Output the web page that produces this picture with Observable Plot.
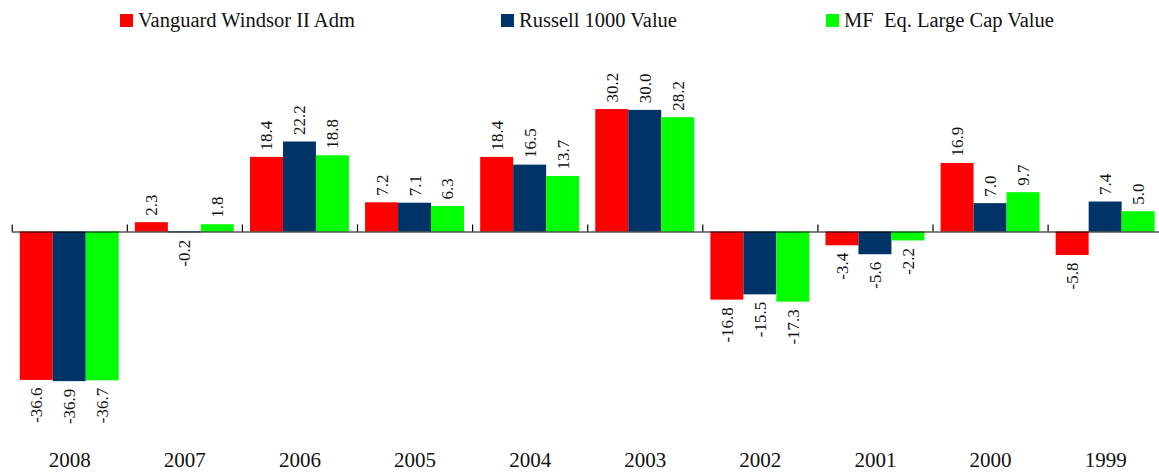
<!DOCTYPE html>
<html>
<head>
<meta charset="utf-8">
<script src="https://cdn.jsdelivr.net/npm/d3@7"></script>
<script src="https://cdn.jsdelivr.net/npm/@observablehq/plot@0.6"></script>
<style>
  html, body { margin: 0; padding: 0; background: #fff; }
  #wrap { width: 1159px; height: 474px; overflow: hidden; font-family: "Liberation Serif", "Times New Roman", serif; }
  #legend { position: relative; width: 1159px; height: 40px; }
  .sw { position: absolute; top: 14px; width: 13px; height: 13px; }
  .lt { position: absolute; top: 0; line-height: 40px; font-size: 20.5px; color: #111; white-space: pre; font-family: "Liberation Serif", "Times New Roman", serif; }
  svg { display: block; }
</style>
</head>
<body>
<div id="wrap">
  <div id="legend"></div>
  <div id="chart"></div>
</div>
<script>
const years = ["2008", "2007", "2006", "2005", "2004", "2003", "2002", "2001", "2000", "1999"];
const series = ["Vanguard Windsor II Adm", "Russell 1000 Value", "MF  Eq. Large Cap Value"];
const windsor = [-36.6, 2.3, 18.4, 7.2, 18.4, 30.2, -16.8, -3.4, 16.9, -5.8];
const russell = [-36.9, -0.2, 22.2, 7.1, 16.5, 30.0, -15.5, -5.6, 7.0, 7.4];
const mfValue = [-36.7, 1.8, 18.8, 6.3, 13.7, 28.2, -17.3, -2.2, 9.7, 5.0];
const colors = ["#ff0000", "#003366", "#00ff00"];

const values = [windsor, russell, mfValue];
const data = [];
years.forEach((yr, i) => series.forEach((s, j) => data.push({year: yr, series: s, value: values[j][i]})));

// legend
const legendPos = [[120, 138], [501, 519], [826, 844]];
const legend = document.getElementById("legend");
series.forEach((s, j) => {
  const sw = document.createElement("div");
  sw.className = "sw";
  sw.style.left = legendPos[j][0] + "px";
  sw.style.background = colors[j];
  legend.appendChild(sw);
  const t = document.createElement("div");
  t.className = "lt";
  t.style.left = legendPos[j][1] + "px";
  t.textContent = s;
  legend.appendChild(t);
});

const serif = "'Liberation Serif', 'Times New Roman', serif";
const fmt = d => d.value.toFixed(1);

// geometry of the in-group band scale (used to put the small ticks on group boundaries)
const fxRange = [11.7, 1162.7];
const facetW = (fxRange[1] - fxRange[0]) / years.length;
const padOuter = 0.245;
const step = facetW / (series.length + 2 * padOuter);
const edgeOffset = -(padOuter * step + step / 2);

const chart = Plot.plot({
  width: 1159,
  height: 434,
  marginLeft: fxRange[0],
  marginRight: 1159 - fxRange[1],
  marginTop: 0,
  marginBottom: 0,
  style: {fontFamily: serif, background: "white", color: "#111"},
  fx: {domain: years, range: fxRange, padding: 0, round: false, axis: null, label: null},
  x: {domain: series, paddingInner: 0, paddingOuter: padOuter, round: false, axis: null, label: null},
  y: {domain: [-40, 35], range: [353.7, 49.6], axis: null, label: null},
  color: {domain: series, range: colors},
  marks: [
    Plot.barY(data, {fx: "year", x: "series", y: "value", fill: "series"}),
    Plot.ruleY([0], {stroke: "#000", strokeWidth: 1.2}),
    Plot.ruleX(years, {fx: d => d, x: () => series[0], y1: 0, y2: 1.75, dx: edgeOffset, stroke: "#000", strokeWidth: 1.2}),
    Plot.text(data.filter(d => d.value >= 0), {fx: "year", x: "series", y: "value", text: fmt, rotate: -90, textAnchor: "start", lineAnchor: "middle", dy: -7, fontSize: 17, fontFamily: serif, fill: "#111"}),
    Plot.text(data.filter(d => d.value < 0), {fx: "year", x: "series", y: "value", text: fmt, rotate: -90, textAnchor: "end", lineAnchor: "middle", dy: 7, fontSize: 17, fontFamily: serif, fill: "#111"}),
    Plot.text(years, {fx: d => d, text: d => d, frameAnchor: "bottom", dy: -8, fontSize: 21, fontFamily: serif, fill: "#111"})
  ]
});
document.getElementById("chart").appendChild(chart);
</script>
</body>
</html>
